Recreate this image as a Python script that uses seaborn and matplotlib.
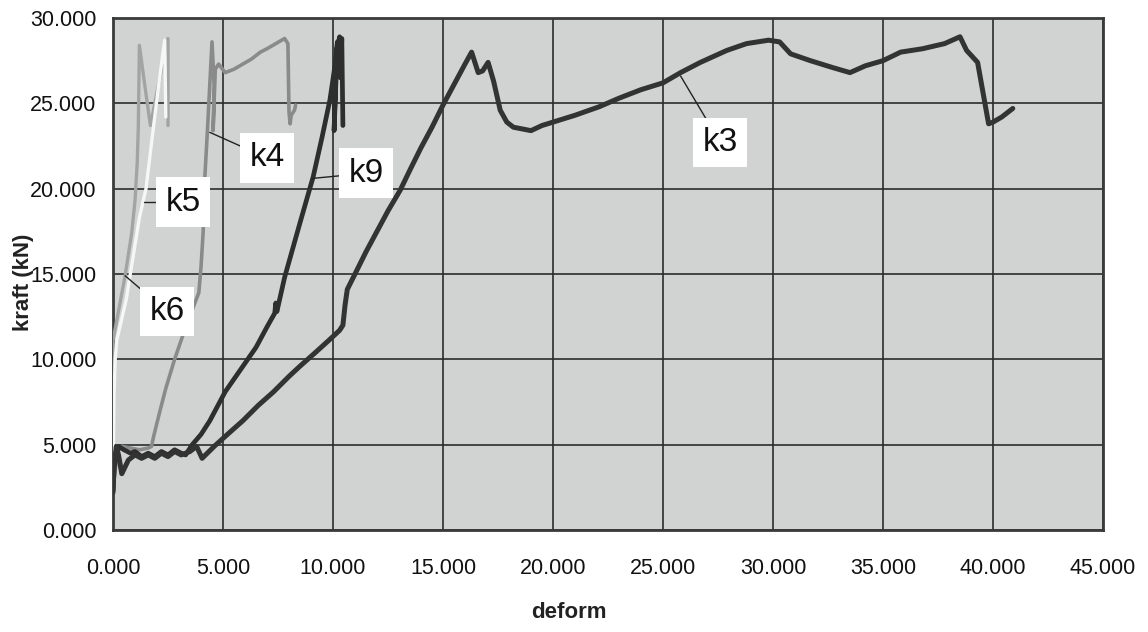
import matplotlib
matplotlib.use("Agg")
import matplotlib.pyplot as plt
from matplotlib import font_manager
from matplotlib.ticker import FormatStrFormatter
import pandas as pd
import seaborn as sns

# ---- measured load / deformation curves -------------------------------
k3_x = [0.0, 0.05, 0.15, 0.25, 0.4, 0.7, 1.0, 1.3, 1.6, 1.9, 2.2, 2.5, 2.8, 3.1, 3.5,
        3.8, 4.05, 4.6, 5.2, 5.9, 6.6, 7.3, 8.0, 8.5, 9.2, 9.8, 10.3, 10.45, 10.55,
        10.65, 11.0, 11.5, 12.0, 12.5, 13.05, 13.5, 14.0, 14.5, 15.0, 15.5, 16.0,
        16.3, 16.6, 16.8, 17.05, 17.3, 17.6, 17.9, 18.2, 18.6, 19.0, 19.5, 20.0,
        21.0, 22.1, 23.0, 24.0, 25.0, 25.8, 26.7, 27.9, 28.8, 29.8, 30.3, 30.8,
        31.7, 32.7, 33.5, 34.2, 35.0, 35.8, 36.8, 37.8, 38.5, 38.8, 39.3, 39.8,
        40.0, 40.4, 40.9]
k3_y = [2.2, 3.8, 4.9, 4.4, 3.3, 4.1, 4.4, 4.2, 4.4, 4.2, 4.5, 4.3, 4.6, 4.4, 4.6,
        4.9, 4.2, 4.9, 5.6, 6.4, 7.3, 8.1, 9.0, 9.6, 10.4, 11.1, 11.7, 12.0, 13.2,
        14.1, 15.0, 16.3, 17.5, 18.7, 19.9, 21.1, 22.4, 23.6, 24.9, 26.1, 27.3,
        28.0, 26.8, 26.9, 27.4, 26.3, 24.6, 23.9, 23.6, 23.5, 23.4, 23.7, 23.9,
        24.3, 24.8, 25.3, 25.8, 26.2, 26.8, 27.4, 28.1, 28.5, 28.7, 28.6, 27.9,
        27.5, 27.1, 26.8, 27.2, 27.5, 28.0, 28.2, 28.5, 28.9, 28.1, 27.4, 23.8,
        23.9, 24.2, 24.7]

k9_x = [0.0, 0.05, 0.15, 0.25, 0.5, 0.8, 1.0, 1.3, 1.6, 1.9, 2.2, 2.5, 2.8, 3.1, 3.3,
        3.6, 4.0, 4.4, 5.1, 5.8, 6.5, 7.0, 7.35, 7.4, 7.45, 7.8, 8.5, 9.1, 9.5,
        9.86, 10.1, 10.2, 10.05, 10.15, 10.3, 10.33, 10.4, 10.45]
k9_y = [2.3, 3.6, 4.6, 4.9, 4.7, 4.5, 4.6, 4.3, 4.5, 4.3, 4.6, 4.4, 4.7, 4.5, 4.4,
        5.0, 5.6, 6.4, 8.1, 9.4, 10.7, 11.9, 12.7, 13.3, 12.8, 14.8, 18.0, 20.7,
        23.0, 25.2, 27.3, 28.6, 23.4, 28.0, 28.9, 26.5, 28.8, 23.7]

k4_x = [0.0, 0.2, 0.4, 0.8, 1.2, 1.6, 1.75, 1.85, 2.1, 2.4, 2.8, 3.2, 3.6, 3.9, 4.0,
        4.1, 4.15, 4.3, 4.5, 4.6, 4.55, 4.65, 4.8, 5.1, 5.5, 5.9, 6.3, 6.7, 7.0,
        7.4, 7.8, 7.95, 8.0, 8.05, 8.1, 8.25, 8.3]
k4_y = [2.5, 4.6, 4.9, 4.8, 4.7, 4.8, 4.9, 5.5, 6.8, 8.3, 10.0, 11.5, 12.9, 13.9,
        15.4, 17.5, 20.1, 23.6, 28.6, 26.0, 23.4, 27.0, 27.3, 26.8, 27.0, 27.3,
        27.6, 28.0, 28.2, 28.5, 28.8, 28.5, 24.5, 23.8, 24.3, 24.6, 24.9]

k5_x = [0.0, 0.05, 0.1, 0.17, 0.6, 1.2, 1.5, 1.8, 2.1, 2.35, 2.4]
k5_y = [3.0, 8.0, 10.0, 11.1, 13.5, 18.3, 20.0, 23.2, 26.3, 28.7, 24.2]

k6_x = [0.0, 0.02, 0.0, 0.55, 0.85, 1.0, 1.1, 1.15, 1.2, 1.45, 1.7, 2.1, 2.5, 2.5]
k6_y = [2.5, 8.0, 11.1, 14.9, 17.4, 19.3, 21.5, 23.6, 28.4, 26.0, 23.7, 26.3, 28.8, 23.7]

# label text, label centre, point on the curve the leader goes to
labels = ["k3", "k4", "k5", "k6", "k9"]
label_pos = [(27.6, 22.7), (7.0, 21.8), (3.2, 19.2), (2.45, 12.8), (11.5, 20.9)]
leader_to = [(25.8, 26.6), (4.4, 23.3), (1.4, 19.2), (0.55, 14.9), (9.05, 20.6)]

x_ticks = [0, 5, 10, 15, 20, 25, 30, 35, 40, 45]
y_ticks = [0, 5, 10, 15, 20, 25, 30]

# ---- styling -----------------------------------------------------------
sns.set_theme(style="white")
installed = {f.name for f in font_manager.fontManager.ttflist}
base_font = "Liberation Sans Narrow" if "Liberation Sans Narrow" in installed else "Liberation Sans"
plt.rcParams["font.family"] = [base_font, "DejaVu Sans"]

fig = plt.figure(figsize=(11.48, 6.32), dpi=100)
ax = fig.add_axes([113 / 1148, 1 - 530 / 632, 990 / 1148, 512 / 632])
ax.set_facecolor("#d1d3d3")

series = [
    (k6_x, k6_y, "#a3a3a3", 2.4),
    (k5_x, k5_y, "#f6f6f6", 2.4),
    (k4_x, k4_y, "#8a8a8a", 2.6),
    (k9_x, k9_y, "#2e2e2e", 3.4),
    (k3_x, k3_y, "#333333", 3.6),
]
for xs, ys, col, lw in series:
    df = pd.DataFrame({"deform": xs, "kraft": ys})
    sns.lineplot(data=df, x="deform", y="kraft", sort=False, estimator=None,
                 color=col, linewidth=lw, ax=ax, zorder=3)

for txt, (lx, ly), (px, py) in zip(labels, label_pos, leader_to):
    ax.plot([px, lx], [py, ly], color="#222222", lw=1.0, zorder=4)
    ax.text(lx, ly, txt, fontsize=24, ha="center", va="center", color="#111111",
            zorder=5, bbox=dict(boxstyle="square,pad=0.28", fc="white", ec="none"))

ax.set_xlim(0, 45)
ax.set_ylim(0, 30)
ax.set_xticks(x_ticks)
ax.set_yticks(y_ticks)
ax.xaxis.set_major_formatter(FormatStrFormatter("%.3f"))
ax.yaxis.set_major_formatter(FormatStrFormatter("%.3f"))
ax.grid(True, color="#2b2b2b", linewidth=1.2, zorder=1)
ax.set_axisbelow(True)
for sp in ax.spines.values():
    sp.set_visible(True)
    sp.set_color("#3a3a3a")
    sp.set_linewidth(2.0)
ax.tick_params(axis="both", direction="out", length=6, width=1.2, color="#333333",
               labelsize=15.5, labelcolor="#111111")
ax.tick_params(axis="y", pad=6)
ax.tick_params(axis="x", pad=14)

ax.set_xlabel("deform", fontsize=16, fontweight="bold", color="#222222")
ax.set_ylabel("kraft (kN)", fontsize=16, fontweight="bold", color="#222222")
ax.xaxis.set_label_coords((569 - 113) / 990, (530 - 602) / 512)
ax.yaxis.set_label_coords((34 - 113) / 990, (530 - 282) / 512)

fig.savefig("out.png", dpi=100, facecolor="white")
